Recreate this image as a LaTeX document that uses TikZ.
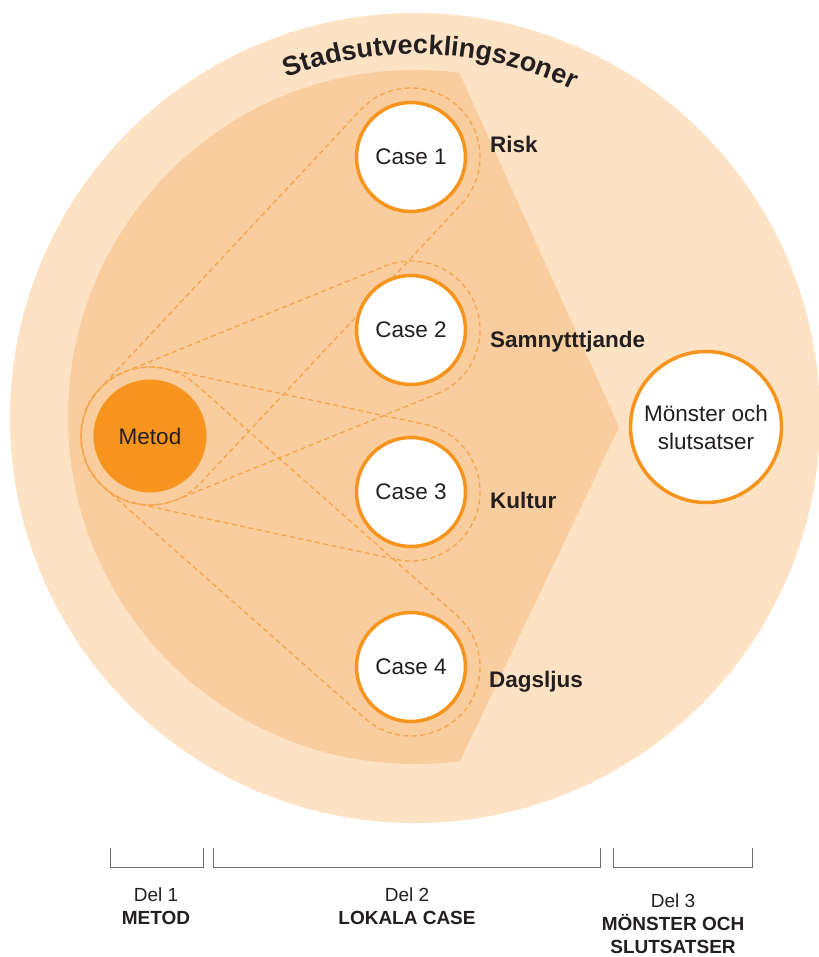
\documentclass[tikz,border=0pt]{standalone}
\usepackage{fontspec}
\setmainfont{Liberation Sans}
\usetikzlibrary{calc,decorations.text}
\definecolor{orng}{HTML}{F7941D}
\definecolor{bgl}{HTML}{FDE3C4}
\definecolor{bgd}{HTML}{F9CD9D}
\definecolor{dsh}{HTML}{F8A549}
\definecolor{txt}{HTML}{231F20}
\definecolor{brk}{HTML}{6D6E71}
\tikzset{
  casebox/.style={circle, draw=orng, line width=3.5pt, fill=white, minimum size=109pt, inner sep=0pt, text=txt, font=\fontsize{22.5}{27}\selectfont},
  metodbox/.style={circle, fill=orng, minimum size=113pt, inner sep=0pt, text=txt, font=\fontsize{22.5}{27}\selectfont},
  resultbox/.style={casebox, minimum size=151pt, align=center, font=\fontsize{22.5}{28}\selectfont},
  lbl/.style={anchor=base west, text=txt, font=\bfseries\fontsize{22.5}{27}\selectfont, inner sep=0pt},
  hullline/.style={draw=dsh, line width=1.3pt, dash pattern=on 5pt off 3.5pt},
  brack/.style={draw=brk, line width=0.9pt},
  delt/.style={anchor=base, text=txt, font=\fontsize{19}{22}\selectfont, inner sep=0pt},
  delb/.style={anchor=base, text=txt, font=\bfseries\fontsize{19}{22}\selectfont, inner sep=0pt},
}
\newcommand\drawhull[2]{%
  \draw[hullline] let \p1=(#1), \p2=(#2), \n1={atan2(\y2-\y1,\x2-\x1)} in
    ($(\p2)+({\n1-90}:69pt)$) arc[start angle={\n1-90}, end angle={\n1+90}, radius=69pt]
    -- ($(\p1)+({\n1+90}:69pt)$) arc[start angle={\n1+90}, end angle={\n1+270}, radius=69pt] -- cycle;}
\begin{document}
\begin{tikzpicture}[x=1pt,y=-1pt]
\useasboundingbox (0,0) rectangle (818,957);
% zones
\fill[bgl] (415,418) circle[radius=405pt];
\begin{scope}
  \clip (459,0) -- (459,72) -- (619,427) -- (459,763) -- (459,957) -- (0,957) -- (0,0) -- cycle;
  \fill[bgd] (415,417) circle[radius=347pt];
\end{scope}
\path[decorate, decoration={text along path, text align=center,
   text={|\bfseries\fontsize{27}{30}\selectfont\color{txt}|Stadsutvecklingszoner}}]
   (415,418) ++(127.5:364pt) arc[start angle=127.5, end angle=47.5, radius=364pt];
% centres
\coordinate (cm) at (150,436);
\coordinate (c1) at (411,157);
\coordinate (c2) at (411,330);
\coordinate (c3) at (411,492);
\coordinate (c4) at (411,667);
% dashed hulls
\drawhull{cm}{c1}
\drawhull{cm}{c2}
\drawhull{cm}{c3}
\drawhull{cm}{c4}
% nodes
\node[metodbox] (metod) at (cm) {Metod};
\node[casebox] (case1) at (c1) {Case 1};
\node[casebox] (case2) at (c2) {Case 2};
\node[casebox] (case3) at (c3) {Case 3};
\node[casebox] (case4) at (c4) {Case 4};
\node[resultbox] (result) at (706,427) {Mönster och\\slutsatser};
\node[lbl] (risk) at (490,153) {Risk};
\node[lbl] (samn) at (490,347) {Samnytttjande};
\node[lbl] (kult) at (490,508) {Kultur};
\node[lbl] (dags) at (489,687) {Dagsljus};
% brackets
\draw[brack] (110,848) -- (110,867) -- (203,867) -- (203,848);
\draw[brack] (213,848) -- (213,867) -- (600,867) -- (600,848);
\draw[brack] (613,848) -- (613,867) -- (752,867) -- (752,848);
\node[delt] (d1a) at (156,901) {Del 1};
\node[delb] (d1b) at (156,924) {METOD};
\node[delt] (d2a) at (407,901) {Del 2};
\node[delb] (d2b) at (407,924) {LOKALA CASE};
\node[delt] (d3a) at (673,907) {Del 3};
\node[delb] (d3b) at (673,930) {MÖNSTER OCH};
\node[delb] (d3c) at (673,953) {SLUTSATSER};
\end{tikzpicture}
\end{document}
